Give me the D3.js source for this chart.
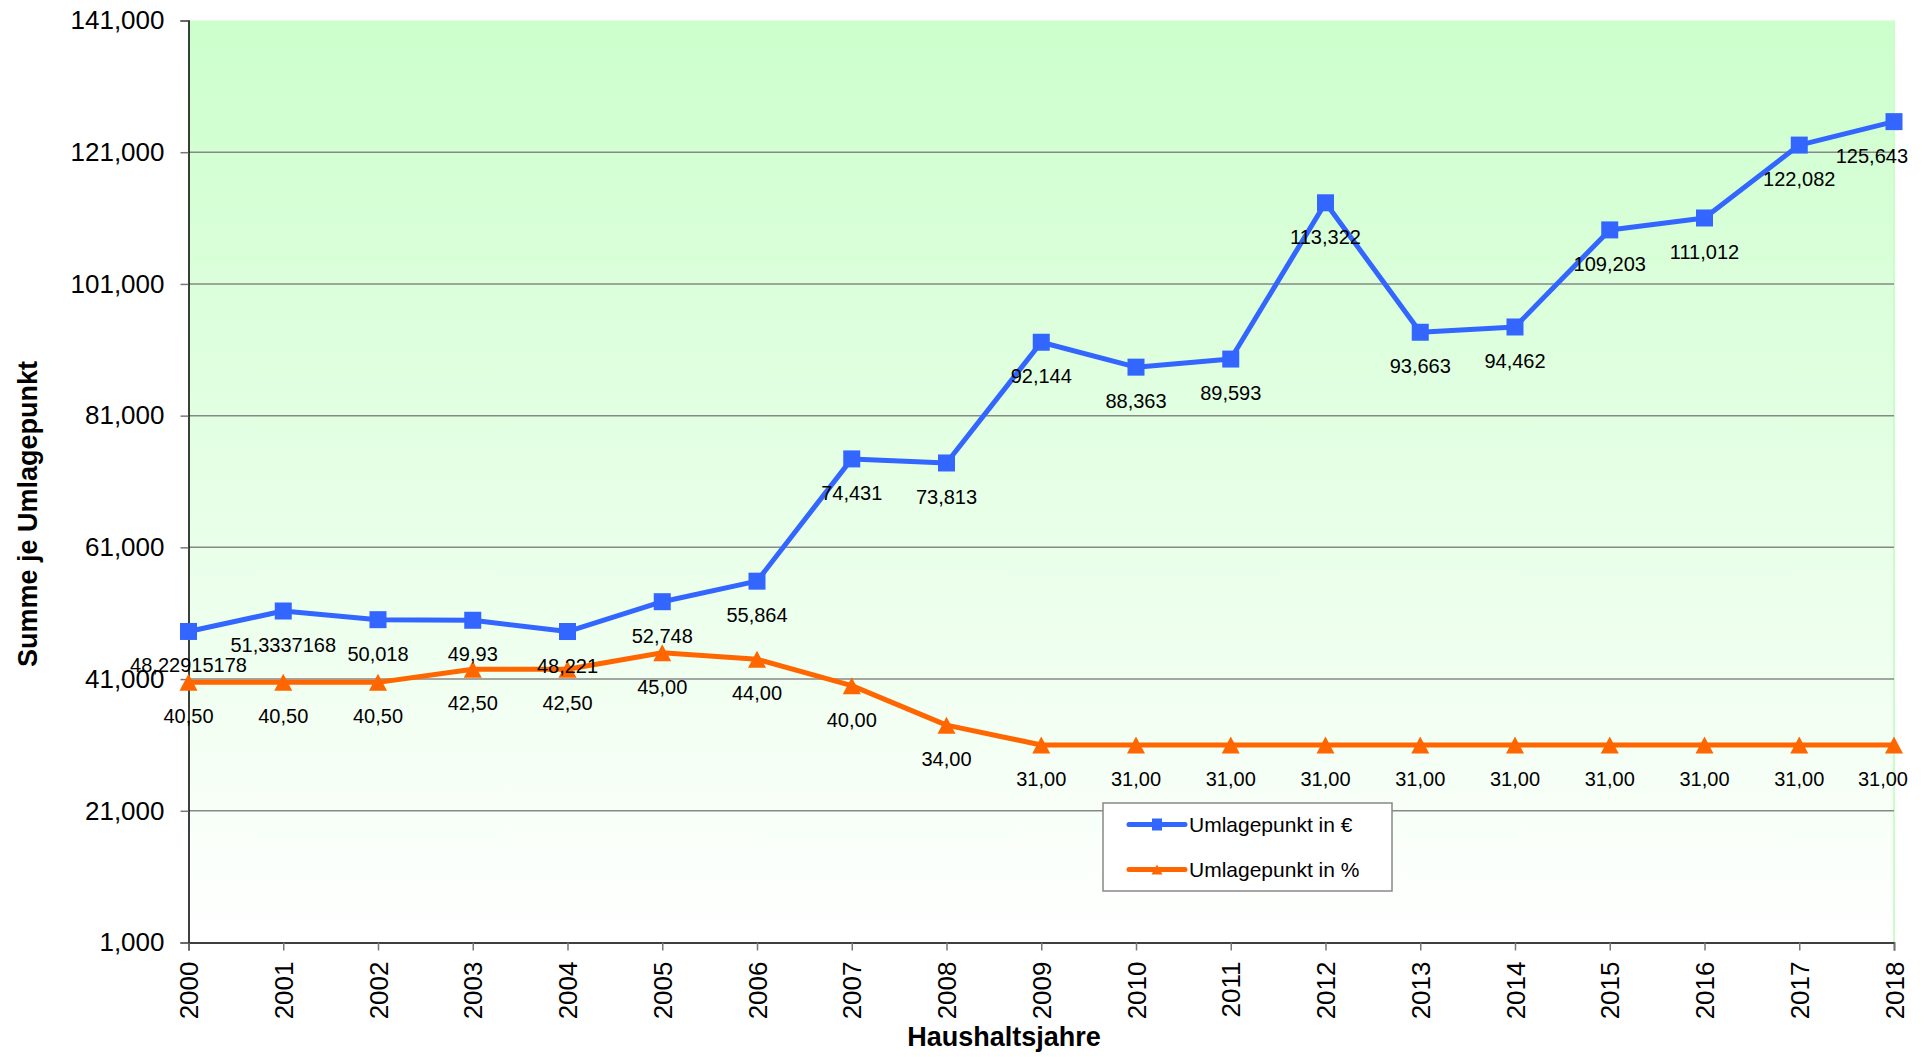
<!DOCTYPE html>
<html>
<head>
<meta charset="utf-8">
<script src="https://cdn.jsdelivr.net/npm/d3@7"></script>
<style>
  html, body { margin: 0; padding: 0; background: #fff; overflow: hidden; }
  svg { display: block; }
  text { font-family: "Liberation Sans", Arial, sans-serif; }
</style>
</head>
<body>
<div id="chart-area"></div>
<script>

const years = [2000, 2001, 2002, 2003, 2004, 2005, 2006, 2007, 2008, 2009,
               2010, 2011, 2012, 2013, 2014, 2015, 2016, 2017, 2018];

const euroValues = [48229.15178, 51333.7168, 50018, 49930, 48221, 52748, 55864, 74431, 73813, 92144,
                    88363, 89593, 113322, 93663, 94462, 109203, 111012, 122082, 125643];
const euroLabels = ["48,22915178", "51,3337168", "50,018", "49,93", "48,221", "52,748", "55,864", "74,431", "73,813", "92,144",
                    "88,363", "89,593", "113,322", "93,663", "94,462", "109,203", "111,012", "122,082", "125,643"];

// percent values are drawn on the same axis (x 1000)
const pctValues = [40.5, 40.5, 40.5, 42.5, 42.5, 45, 44, 40, 34, 31,
                   31, 31, 31, 31, 31, 31, 31, 31, 31];

const yTicks = [1000, 21000, 41000, 61000, 81000, 101000, 121000, 141000];

const seriesNames = ["Umlagepunkt in €", "Umlagepunkt in %"];
const blue = "#3366FF";
const orange = "#FF6600";

const width = 1930;
const height = 1057;
const margin = {top: 20.5, right: 36, bottom: 114.5, left: 188.5};
const innerWidth = width - margin.left - margin.right;
const innerHeight = height - margin.top - margin.bottom;

const svg = d3.select('#chart-area')
	.append('svg')
	.attr('width', width)
	.attr('height', height);

const defs = svg.append('defs');
const grad = defs.append('linearGradient')
	.attr('id', 'bg')
	.attr('x1', 0).attr('y1', 0)
	.attr('x2', 0).attr('y2', 1);
grad.append('stop').attr('offset', '0%').attr('stop-color', '#CCFFCC');
grad.append('stop').attr('offset', '100%').attr('stop-color', '#FFFFFF');

const g = svg.append('g')
	.attr('transform', `translate(${margin.left},${margin.top})`);

const x = d3.scalePoint()
	.domain(years)
	.range([0, innerWidth]);

const y = d3.scaleLinear()
	.domain([1000, 141000])
	.range([innerHeight, 0]);

// plot background
g.append('rect')
	.attr('width', innerWidth)
	.attr('height', innerHeight)
	.attr('fill', 'url(#bg)');

g.append('line')
	.attr('x1', innerWidth).attr('x2', innerWidth)
	.attr('y1', 0).attr('y2', innerHeight)
	.attr('stroke', '#C8FFC8')
	.attr('stroke-width', 2);

// gridlines
g.selectAll('.grid')
	.data(yTicks.filter(d => d > 1000 && d < 141000))
	.enter().append('line')
	.attr('x1', 0).attr('x2', innerWidth)
	.attr('y1', d => y(d)).attr('y2', d => y(d))
	.attr('stroke', '#888')
	.attr('stroke-width', 1.5);

// y axis
const yAxis = d3.axisLeft(y)
	.tickValues(yTicks)
	.tickFormat(d3.format(","))
	.tickSizeOuter(0)
	.tickSize(8)
	.tickPadding(16);

const yG = g.append('g').call(yAxis)
	.attr('font-size', 26)
	.attr('font-family', '"Liberation Sans", Arial, sans-serif');
yG.select('.domain').attr('stroke', '#000').attr('stroke-width', 1.5);
yG.selectAll('.tick line').attr('stroke', '#777').attr('stroke-width', 1.5);
yG.selectAll('.tick text').attr('fill', '#000');

// x axis
const xAxis = d3.axisBottom(x)
	.tickSizeOuter(0)
	.tickSize(8);

const xG = g.append('g')
	.attr('transform', `translate(0,${innerHeight})`)
	.call(xAxis)
	.attr('font-size', 26)
	.attr('font-family', '"Liberation Sans", Arial, sans-serif');
xG.select('.domain').attr('stroke', '#000').attr('stroke-width', 1.5);
xG.selectAll('.tick line').attr('stroke', '#777').attr('stroke-width', 1.5);
xG.selectAll('.tick text')
	.attr('fill', '#000')
	.attr('text-anchor', 'end')
	.attr('transform', 'rotate(-90)')
	.attr('x', -19)
	.attr('y', 0)
	.attr('dy', '0.35em');

// axis titles
svg.append('text')
	.text('Haushaltsjahre')
	.attr('font-size', '27px')
	.attr('font-weight', 'bold')
	.attr('text-anchor', 'middle')
	.attr('x', 1004)
	.attr('y', 1046);

svg.append('text')
	.text('Summe je Umlagepunkt')
	.attr('font-size', '27px')
	.attr('font-weight', 'bold')
	.attr('text-anchor', 'middle')
	.attr('transform', 'translate(37,514) rotate(-90)');

// lines
const line = d3.line()
	.x((d, i) => x(years[i]))
	.y(d => y(d));

const pctScaled = pctValues.map(v => v * 1000);

g.append('path')
	.datum(pctScaled)
	.attr('d', line)
	.attr('fill', 'none')
	.attr('stroke', orange)
	.attr('stroke-width', 5)
	.attr('stroke-linejoin', 'round');

g.append('path')
	.datum(euroValues)
	.attr('d', line)
	.attr('fill', 'none')
	.attr('stroke', blue)
	.attr('stroke-width', 5)
	.attr('stroke-linejoin', 'round');

const triPath = (w, h) => `M0,${-h / 2}L${w / 2},${h / 2}L${-w / 2},${h / 2}Z`;

g.selectAll('.tri')
	.data(pctScaled)
	.enter().append('path')
	.attr('d', triPath(18, 17))
	.attr('fill', orange)
	.attr('transform', (d, i) => `translate(${x(years[i])},${y(d)})`);

g.selectAll('.sq')
	.data(euroValues)
	.enter().append('rect')
	.attr('x', (d, i) => x(years[i]) - 8.5)
	.attr('y', d => y(d) - 8.5)
	.attr('width', 17)
	.attr('height', 17)
	.attr('fill', blue);

// data labels
function addLabels(values, labels) {
	g.selectAll(null)
		.data(values)
		.enter().append('text')
		.text((d, i) => labels[i])
		.attr('font-size', '20px')
		.attr('fill', '#000')
		.attr('text-anchor', 'middle')
		.attr('y', d => y(d) + 41)
		.attr('x', function(d, i) {
			const cx = x(years[i]);
			const half = this.getComputedTextLength() / 2;
			return Math.min(cx, innerWidth + 14 - half);
		});
}

addLabels(euroValues, euroLabels);
addLabels(pctScaled, pctValues.map(v => v.toFixed(2).replace('.', ',')));

// legend
const legend = svg.append('g').attr('transform', 'translate(1103,803)');
legend.append('rect')
	.attr('width', 289)
	.attr('height', 88)
	.attr('fill', '#fff')
	.attr('stroke', '#888')
	.attr('stroke-width', 1.5);

const items = legend.selectAll('.item')
	.data(seriesNames)
	.enter().append('g')
	.attr('transform', (d, i) => `translate(0,${21.5 + i * 45})`);

items.append('line')
	.attr('x1', 26).attr('x2', 82)
	.attr('stroke', (d, i) => i === 0 ? blue : orange)
	.attr('stroke-width', 5)
	.attr('stroke-linecap', 'round');

items.append('path')
	.attr('d', (d, i) => i === 0 ? 'M-5,-6H5V6H-5Z' : triPath(11, 10))
	.attr('fill', (d, i) => i === 0 ? blue : orange)
	.attr('transform', 'translate(54,0)');

items.append('text')
	.text(d => d)
	.attr('x', 86)
	.attr('dy', '0.35em')
	.attr('font-size', '21px')
	.attr('fill', '#000');

</script>
</body>
</html>
